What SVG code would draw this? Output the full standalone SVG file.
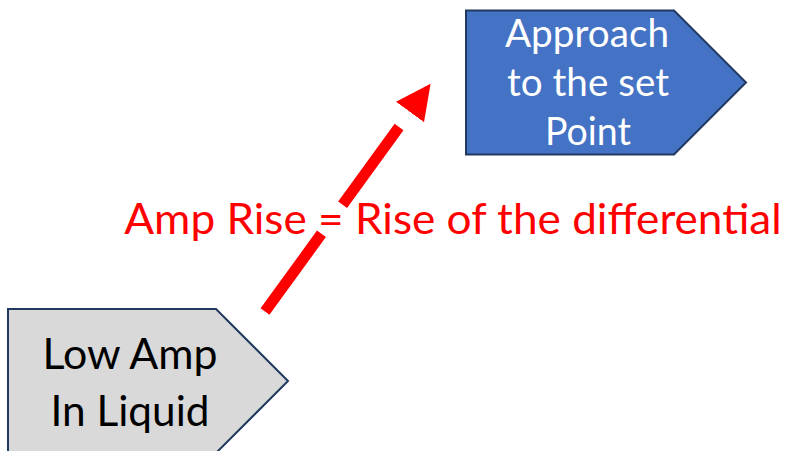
<svg xmlns="http://www.w3.org/2000/svg" width="786" height="451" viewBox="0 0 786 451">
<style>
.box{stroke:#22395F;stroke-width:2;stroke-linejoin:miter}
.blue{fill:#4472C4}
.grey{fill:#D9D9D9}
.lbl{font-family:Lato,"Open Sans","Liberation Sans",sans-serif;text-anchor:middle}
.conn{fill:none;stroke:#FF0000;stroke-width:11;stroke-dasharray:96 36}
.note{font-family:Lato,"Open Sans","Liberation Sans",sans-serif;fill:#FF0000;font-size:42.3px}
</style>
<defs>
<marker id="head" markerUnits="userSpaceOnUse" viewBox="0 -18 36 36" markerWidth="36" markerHeight="36" refX="0" refY="0" orient="auto">
<path d="M0,-17.3 L35,0 L0,17.3 Z" fill="#FF0000"/>
</marker>
</defs>
<rect width="786" height="451" fill="#FFFFFF"/>
<g id="connectors">
<path class="conn" d="M265,311.5 L410,112" marker-end="url(#head)"/>
</g>
<g id="node-approach">
<path class="box blue" d="M466,10.5 H674 L746,82.5 L674,154.5 H466 Z"/>
<text class="lbl" fill="#FFFFFF" font-size="37.7" x="587" y="46.7" textLength="164" lengthAdjust="spacingAndGlyphs">Approach</text>
<text class="lbl" fill="#FFFFFF" font-size="37.7" x="588" y="95.5" textLength="162" lengthAdjust="spacingAndGlyphs">to the set</text>
<text class="lbl" fill="#FFFFFF" font-size="37.7" x="588" y="145" textLength="86" lengthAdjust="spacingAndGlyphs">Point</text>
</g>
<g id="node-low-amp">
<path class="box grey" d="M8,309 H216 L288,381 L216,453 H8 Z"/>
<text class="lbl" fill="#000000" font-size="42" x="130" y="369" textLength="175" lengthAdjust="spacingAndGlyphs">Low Amp</text>
<text class="lbl" fill="#000000" font-size="42" x="130" y="425.7" textLength="159" lengthAdjust="spacingAndGlyphs">In Liquid</text>
</g>
<g id="label">
<text class="note" x="124.3" y="234.3" textLength="657.4" lengthAdjust="spacingAndGlyphs">Amp Rise = Rise of the differential</text>
</g>
</svg>
